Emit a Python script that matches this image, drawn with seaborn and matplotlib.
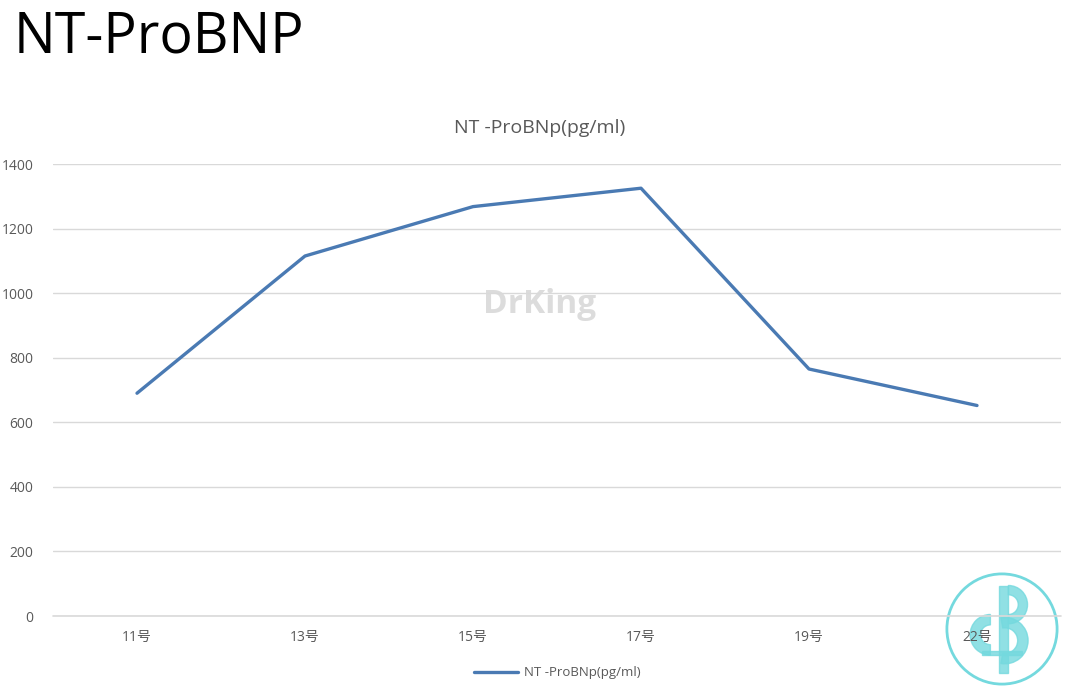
import matplotlib
matplotlib.use("Agg")
import matplotlib.pyplot as plt
import seaborn as sns
import pandas as pd
from matplotlib.patches import Circle, Wedge, Rectangle

days = ["11号", "13号", "15号", "17号", "19号", "22号"]
bnp_values = [690, 1115, 1268, 1325, 765, 652]
series_name = "NT -ProBNp(pg/ml)"
y_ticks = [0, 200, 400, 600, 800, 1000, 1200, 1400]

sns.set_theme(style="white")
plt.rcParams["font.family"] = ["Open Sans", "Noto Sans CJK SC", "DejaVu Sans"]

df = pd.DataFrame({"day": days, "value": bnp_values})
df["pos"] = range(len(days))

fig = plt.figure(figsize=(10.8, 6.95), dpi=100)

# club logo in the corner (drawn as shapes, kept under the chart)
logo_ax = fig.add_axes([944 / 1080, 1 - 688 / 695, 116 / 1080, 118 / 695])
logo_ax.set_zorder(0)
logo_ax.set_xlim(-1, 1)
logo_ax.set_ylim(-1, 1)
logo_ax.set_aspect("equal")
logo_ax.axis("off")
logo_ax.patch.set_alpha(0)
cyan = "#74d9de"
logo_ax.add_patch(Circle((0, 0), 0.95, fill=False, edgecolor=cyan, linewidth=2))
logo_ax.add_patch(Rectangle((-0.05, -0.75), 0.16, 1.5, color=cyan, alpha=0.8))
logo_ax.add_patch(Wedge((0.11, 0.42), 0.33, -90, 90, width=0.16, color=cyan, alpha=0.8))
logo_ax.add_patch(Wedge((0.05, -0.2), 0.4, -100, 100, width=0.18, color=cyan, alpha=0.8))
logo_ax.add_patch(Wedge((-0.2, -0.1), 0.35, 90, 270, width=0.18, color=cyan, alpha=0.8))
logo_ax.add_patch(Rectangle((-0.35, -0.45), 0.7, 0.07, color=cyan, alpha=0.8))

ax = fig.add_axes([53 / 1080, 1 - 616 / 695, 1008 / 1080, 452 / 695])
ax.set_zorder(2)
ax.patch.set_alpha(0)

sns.lineplot(data=df, x="pos", y="value", ax=ax, color="#4a7ab3",
             linewidth=2.4, label=series_name)

ax.set_xlim(-0.5, len(days) - 0.5)
ax.set_ylim(0, 1400)
ax.set_xticks(df["pos"])
ax.set_xticklabels(days)
ax.set_yticks(y_ticks)
ax.yaxis.grid(True, color="#d9d9d9", linewidth=1)
ax.xaxis.grid(False)
ax.axhline(0, color="#d9d9d9", linewidth=1.2, clip_on=False, zorder=1)
for s in ax.spines.values():
    s.set_visible(False)
ax.tick_params(axis="both", length=0, labelsize=10, colors="#595959")
ax.tick_params(axis="x", pad=10)
ax.tick_params(axis="y", pad=14)
ax.set_xlabel("")
ax.set_ylabel("")

leg = ax.legend(loc="upper center", bbox_to_anchor=(0.5, -0.085), frameon=False,
                fontsize=9.5, handlelength=3.4, handletextpad=0.4)
for t in leg.get_texts():
    t.set_color("#595959")

fig.text(14 / 1080, 1 - 38 / 695, "NT-ProBNP", fontsize=40, color="black",
         va="center", ha="left")
fig.text(540 / 1080, 1 - 128 / 695, series_name, fontsize=14, color="#595959",
         va="center", ha="center")

# watermark
fig.text(540 / 1080, 1 - 305 / 695, "DrKing", fontsize=24, fontweight="bold",
         color="#dcdcdc", va="center", ha="center", zorder=0)

fig.savefig("out.png", dpi=100)
